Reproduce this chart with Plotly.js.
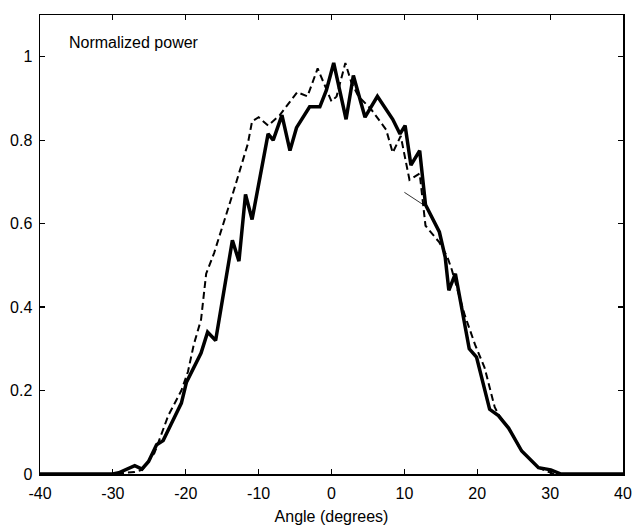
<!DOCTYPE html>
<html>
<head>
<meta charset="utf-8">
<script src="https://cdn.plot.ly/plotly-3.0.1.min.js"></script>
<style>html,body{margin:0;padding:0;background:#fff;}#chart{width:634px;height:528px;}</style>
</head>
<body>
<div id="chart"></div>
<script>
// Solid curve (measured)
const solidX = [-40, -30, -29.2, -28.4, -27, -26, -25.1, -24, -23.1, -22, -20.6, -19.9, -17.9, -17, -15.9, -13.6, -12.7, -11.8, -10.9, -8.7, -8, -6.8, -5.7, -4.8, -3, -1.6, -0.7, 0.3, 2.0, 3.0, 4.6, 6.3, 8.4, 9.4, 10.1, 10.9, 12.1, 12.9, 14.8, 15.6, 16.1, 17.0, 18.9, 19.9, 21.7, 22.9, 24.3, 26.1, 28.4, 30.1, 31.5, 40];
const solidY = [0, 0, 0.003, 0.01, 0.02, 0.012, 0.03, 0.07, 0.08, 0.12, 0.17, 0.22, 0.29, 0.34, 0.32, 0.56, 0.51, 0.67, 0.61, 0.815, 0.80, 0.86, 0.775, 0.83, 0.88, 0.88, 0.92, 0.985, 0.85, 0.955, 0.855, 0.905, 0.85, 0.815, 0.835, 0.74, 0.775, 0.645, 0.58, 0.52, 0.44, 0.48, 0.30, 0.28, 0.155, 0.14, 0.11, 0.055, 0.015, 0.01, 0, 0];

// Dashed curve (measured)
const dashX = [-40, -30, -27, -26, -24.3, -22.4, -20.6, -19.7, -18.9, -17.9, -17.2, -16.1, -13.4, -11.5, -10.9, -10, -8.7, -7.1, -4.7, -3.3, -1.9, -1.1, 0, 0.7, 1.9, 2.7, 3.7, 5.4, 6.4, 7.5, 8.4, 9.5, 10.7, 12.1, 12.9, 14.8, 15.9, 16.5, 18.3, 19.7, 21, 22.4, 23, 24.3, 26.1, 28.4, 30.5, 40];
const dashY = [0, 0, 0.005, 0.01, 0.05, 0.14, 0.20, 0.245, 0.31, 0.37, 0.48, 0.53, 0.68, 0.79, 0.845, 0.855, 0.835, 0.86, 0.915, 0.905, 0.972, 0.94, 0.893, 0.905, 0.985, 0.94, 0.905, 0.875, 0.85, 0.825, 0.77, 0.81, 0.705, 0.72, 0.595, 0.555, 0.52, 0.49, 0.38, 0.31, 0.255, 0.16, 0.14, 0.11, 0.055, 0.015, 0, 0];

// Thin stray pointer line
const pointerX = [10.0, 12.8];
const pointerY = [0.675, 0.643];

const xTickVals = [-40, -30, -20, -10, 0, 10, 20, 30, 40];
const xTickText = ["-40", "-30", "-20", "-10", "0", "10", "20", "30", "40"];
const yTickVals = [0, 0.2, 0.4, 0.6, 0.8, 1];
const yTickText = ["0", "0.2", "0.4", "0.6", "0.8", "1"];

const font = {family: "Liberation Sans, Arial, sans-serif", size: 16, color: "#000"};

const traces = [
  {x: dashX, y: dashY, mode: "lines", line: {color: "#000", width: 2, dash: "7px,4px"}, hoverinfo: "skip"},
  {x: solidX, y: solidY, mode: "lines", line: {color: "#000", width: 3.5}, hoverinfo: "skip"},
  {x: pointerX, y: pointerY, mode: "lines", line: {color: "#000", width: 0.8}, hoverinfo: "skip"}
];

const layout = {
  width: 634, height: 528,
  margin: {l: 40, r: 11, t: 15, b: 54},
  paper_bgcolor: "#fff", plot_bgcolor: "#fff",
  showlegend: false,
  font: font,
  xaxis: {
    range: [-40, 40], tickvals: xTickVals, ticktext: xTickText,
    ticks: "inside", ticklen: 5, tickwidth: 1.2, tickcolor: "#000",
    showline: true, linecolor: "#000", linewidth: 1.5, mirror: "ticks",
    showgrid: false, zeroline: false,
    ticklabelstandoff: 4,
    tickfont: font,
    title: {text: "Angle (degrees)", font: font, standoff: 10}
  },
  yaxis: {
    range: [0, 1.1], tickvals: yTickVals, ticktext: yTickText,
    ticks: "inside", ticklen: 5, tickwidth: 1.2, tickcolor: "#000",
    showline: true, linecolor: "#000", linewidth: 1.5, mirror: "ticks",
    showgrid: false, zeroline: false,
    ticklabelstandoff: 3,
    tickfont: font
  },
  annotations: [{
    text: "Normalized power", xref: "paper", yref: "paper",
    x: 0.046, y: 0.941, xanchor: "left", yanchor: "middle",
    showarrow: false, font: font
  }]
};

Plotly.newPlot("chart", traces, layout, {staticPlot: true, displayModeBar: false});
</script>
</body>
</html>
